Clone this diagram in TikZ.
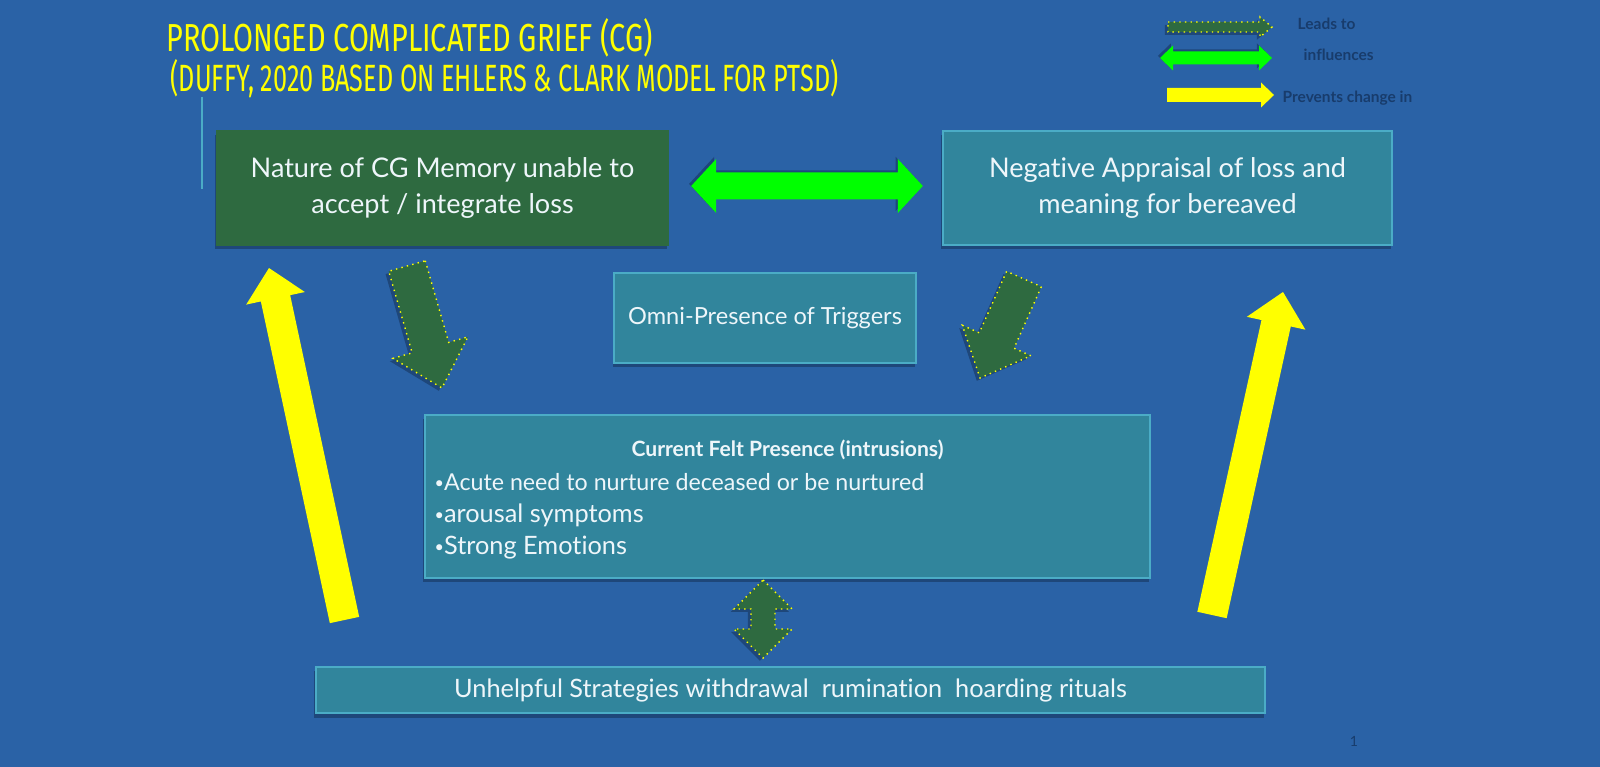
\documentclass[tikz,border=0pt]{standalone}
\usepackage{fontspec}
\setmainfont{Lato}[Ligatures=NoCommon]
\newfontfamily\titlefont[FakeStretch=0.74]{Fira Sans}
\newfontfamily\subtitlefont[FakeStretch=0.664]{Fira Sans}
\usetikzlibrary{calc,shadows}
\definecolor{Sea}{HTML}{2A62A6}
\definecolor{Moss}{HTML}{2E6A40}
\definecolor{Teal}{HTML}{31859C}
\definecolor{Edge}{HTML}{4BACC6}
\definecolor{Shade}{HTML}{1E477A}
\definecolor{Lime}{HTML}{00FF00}
\definecolor{Sun}{HTML}{FFFF00}
\definecolor{Ink}{HTML}{EEF6FA}
\definecolor{Navy}{HTML}{183C6C}
\newcommand{\dotb}{{\fontsize{4.6}{5}\selectfont\raisebox{.25ex}{•}}}
% block arrows: style, tail, tip, half shaft, half head, head length (px)
\newcommand{\onearrow}[6]{%
  \path ($(#3)!#6*0.01cm!(#2)$) coordinate (hb);
  \path[#1] ($(#2)!#4*0.01cm!90:(#3)$) -- ($(hb)!#4*0.01cm!90:(#3)$) -- ($(hb)!#5*0.01cm!90:(#3)$) -- (#3)
    -- ($(hb)!#5*0.01cm!-90:(#3)$) -- ($(hb)!#4*0.01cm!-90:(#3)$) -- ($(#2)!#4*0.01cm!-90:(#3)$) -- cycle;}
\newcommand{\twoarrow}[6]{%
  \path ($(#2)!#6*0.01cm!(#3)$) coordinate (ha) ($(#3)!#6*0.01cm!(#2)$) coordinate (hb);
  \path[#1] (#2) -- ($(ha)!#5*0.01cm!90:(#3)$) -- ($(ha)!#4*0.01cm!90:(#3)$) -- ($(hb)!#4*0.01cm!90:(#3)$) -- ($(hb)!#5*0.01cm!90:(#3)$) -- (#3)
    -- ($(hb)!#5*0.01cm!-90:(#3)$) -- ($(hb)!#4*0.01cm!-90:(#3)$) -- ($(ha)!#4*0.01cm!-90:(#3)$) -- ($(ha)!#5*0.01cm!-90:(#3)$) -- cycle;}

\begin{document}
\begin{tikzpicture}[x=0.01cm,y=-0.01cm,
  box/.style={draw=Edge,line width=.6pt,fill=Teal,text=Ink,align=center,font=\fontsize{7.7}{10}\selectfont,
    drop shadow={shadow xshift=-.4pt,shadow yshift=-1.2pt,fill=Shade,opacity=1}},
  memo/.style={box,draw=Moss,fill=Moss},
  txt/.style={text=Ink,inner sep=0pt},
  title/.style={text=Sun,inner sep=0pt,anchor=base west,font=\titlefont\fontsize{11.1}{13}\selectfont},
  darr/.style={fill=Moss,draw=Sun,line width=.4pt,dash pattern=on .4pt off 1.2pt,
    drop shadow={shadow xshift=-.9pt,shadow yshift=-.8pt,fill=Shade,opacity=1}},
  garr/.style={fill=Lime,drop shadow={shadow xshift=-.6pt,shadow yshift=.6pt,fill=Shade,opacity=1}},
  yarr/.style={fill=Sun},
  key/.style={text=Navy,anchor=west,inner sep=0pt,font=\bfseries\fontsize{4.4}{5}\selectfont}]
\fill[Sea] (0,0) rectangle (1600,767);
\useasboundingbox (0,0) rectangle (1600,767);

\node[title] (t1) at (166,52) {PROLONGED COMPLICATED GRIEF (CG)};
\node[title,font=\subtitlefont\fontsize{10.8}{13}\selectfont] (t2) at (170,92) {(DUFFY, 2020 BASED ON EHLERS \& CLARK MODEL FOR PTSD)};
\draw[Edge,line width=.5pt] (202,97) -- (202,189);

\node[memo,minimum width=4.51cm,minimum height=1.14cm] (mem) at (442.5,188) {Nature of CG Memory unable to\\accept / integrate loss};
\node[box,minimum width=4.49cm,minimum height=1.14cm] (neg) at (1167.5,188) {Negative Appraisal of loss and\\meaning for bereaved};
\node[box,font=\fontsize{6.7}{8}\selectfont,minimum width=3.02cm,minimum height=.9cm] (omni) at (765,318) {Omni-Presence of Triggers};
\node[box,minimum width=7.25cm,minimum height=1.63cm] (cur) at (787.5,496.5) {};
\node[txt,font=\bfseries\fontsize{6}{7}\selectfont] (cfp) at (787.5,450) {Current Felt Presence (intrusions)};
\node[txt,anchor=west,font=\fontsize{6.6}{8}\selectfont] (i1) at (434,482) {\dotb Acute need to nurture deceased or be nurtured};
\node[txt,anchor=west,font=\fontsize{7.2}{8}\selectfont] (i2) at (434,515) {\dotb arousal symptoms};
\node[txt,anchor=west,font=\fontsize{7.2}{8}\selectfont] (i3) at (434,548) {\dotb Strong Emotions};
\node[box,font=\fontsize{7.2}{8}\selectfont,minimum width=9.49cm,minimum height=.44cm] (unh) at (790.5,690) {Unhelpful Strategies withdrawal\ \ rumination\ \ hoarding rituals};

\coordinate (g1) at ($(mem.east)+(22,-2)$);
\coordinate (g2) at ($(neg.west)+(-19,-2)$);
\twoarrow{garr}{g1}{g2}{13.5}{27}{25}
\coordinate (d1) at (407,266);
\coordinate (d2) at (442,388);
\onearrow{darr}{d1}{d2}{19}{39}{42}
\coordinate (d3) at (1024,279);
\coordinate (d4) at (980,378);
\onearrow{darr}{d3}{d4}{19}{37.5}{41}
\coordinate (v1) at (763,580);
\coordinate (v2) at (763,658);
\twoarrow{darr}{v1}{v2}{12}{29}{29}
\coordinate (y1) at (344.5,620);
\coordinate (y2) at (269,268);
\onearrow{yarr}{y1}{y2}{15}{30}{31}
\coordinate (y3) at (1212,615);
\coordinate (y4) at (1283,292);
\onearrow{yarr}{y3}{y4}{15}{30}{32}

\coordinate (k1) at (1168,27);
\coordinate (k2) at (1272,27);
\onearrow{darr}{k1}{k2}{5}{10}{12}
\coordinate (k3) at (1160,58);
\coordinate (k4) at (1272,58);
\twoarrow{garr}{k3}{k4}{6.5}{12.5}{13}
\coordinate (k5) at (1167,95);
\coordinate (k6) at (1274,95);
\onearrow{yarr}{k5}{k6}{7}{12.5}{13}
\node[key] (lk1) at (1297,24) {Leads to};
\node[key] (lk2) at (1303,55) {influences};
\node[key] (lk3) at (1282,98) {Prevents change in};
\node[key,anchor=center,font=\fontsize{4}{5}\selectfont] (pg) at (1354,741) {1};
\end{tikzpicture}
\end{document}
